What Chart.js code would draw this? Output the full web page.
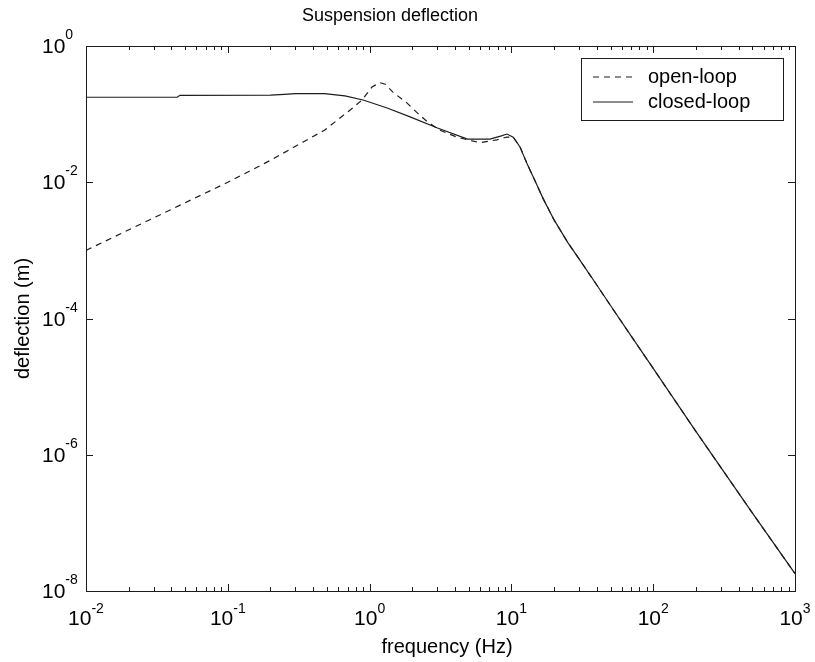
<!DOCTYPE html>
<html>
<head>
<meta charset="utf-8">
<script src="https://cdn.jsdelivr.net/npm/chart.js@4.4.1/dist/chart.umd.min.js"></script>
<style>
  html, body { margin: 0; padding: 0; background: #fff; }
  canvas { display: block; }
</style>
</head>
<body>
<canvas id="bode" width="815" height="662"></canvas>
<script>
// frequency response data (Hz -> m)
const freqOpen = [0.01, 0.1, 0.2, 0.34, 0.48, 0.73, 0.88, 1.04, 1.18, 1.29, 1.46, 1.84, 2.16, 2.58, 3.14, 4.13, 6.0, 7.9, 9.3, 10.3, 11.5, 13, 15, 16.7, 20, 25, 30, 40, 50, 70, 100, 200, 500, 1000];
const openLoop = [0.001, 0.01, 0.021, 0.039, 0.058, 0.115, 0.16, 0.25, 0.29, 0.275, 0.21, 0.145, 0.105, 0.076, 0.058, 0.046, 0.038, 0.042, 0.046, 0.046, 0.033, 0.018, 0.0095, 0.0058, 0.0028, 0.0013, 0.00075, 0.00031, 0.000155, 0.000055, 0.0000185, 0.0000022, 0.00000014, 0.000000018];

const freqClosed = [0.01, 0.044, 0.046, 0.2, 0.25, 0.3, 0.48, 0.67, 0.9, 1.33, 1.93, 2.98, 4.9, 7.06, 8.5, 9.3, 10.3, 11.5, 13, 15, 16.7, 20, 25, 30, 40, 50, 70, 100, 200, 500, 1000];
const closedLoop = [0.177, 0.177, 0.189, 0.19, 0.195, 0.2, 0.2, 0.185, 0.161, 0.123, 0.091, 0.063, 0.043, 0.043, 0.048, 0.051, 0.046, 0.033, 0.018, 0.0095, 0.0058, 0.0028, 0.0013, 0.00075, 0.00031, 0.000155, 0.000055, 0.0000185, 0.0000022, 0.00000014, 0.000000018];

const seriesNames = ['open-loop', 'closed-loop'];
const xDecades = [-2, -1, 0, 1, 2, 3];
const yLabelExps = [0, -2, -4, -6, -8];

const titleText = 'Suspension deflection';
const xTitle = 'frequency (Hz)';
const yTitle = 'deflection (m)';

const FONT = '"Liberation Sans", Arial, Helvetica, sans-serif';
const INK = '#1c1c1c';

function toPoints(xs, ys) {
  return xs.map((x, i) => ({ x: x, y: ys[i] }));
}

// "10" with a raised exponent; left edge of "10" at x
function powerLabel(ctx, exp, x, base, expSize, rise) {
  ctx.textAlign = 'left';
  ctx.textBaseline = 'alphabetic';
  ctx.font = '21px ' + FONT;
  const w10 = ctx.measureText('10').width;
  ctx.fillText('10', x, base);
  ctx.font = expSize + 'px ' + FONT;
  ctx.fillText(String(exp), x + w10, base - rise);
}

function labelWidth(ctx, exp, expSize) {
  ctx.font = '21px ' + FONT;
  const w10 = ctx.measureText('10').width;
  ctx.font = expSize + 'px ' + FONT;
  return w10 + ctx.measureText(String(exp)).width;
}

// MATLAB style box: frame, inward ticks, tick labels, titles, legend
const axesBox = {
  id: 'axesBox',
  afterDatasetsDraw(chart) {
    const ctx = chart.ctx;
    const area = chart.chartArea;
    const xs = chart.scales.x;
    const ys = chart.scales.y;
    ctx.save();
    ctx.strokeStyle = INK;
    ctx.fillStyle = '#000';
    ctx.lineWidth = 1;

    ctx.strokeRect(area.left + 0.5, area.top + 0.5, area.right - area.left, area.bottom - area.top);

    ctx.beginPath();
    xDecades.forEach((d) => {
      for (let m = 1; m <= 9; m++) {
        if (d === 3 && m > 1) break;
        const v = m * Math.pow(10, d);
        const px = Math.round(xs.getPixelForValue(v)) + 0.5;
        const len = m === 1 ? 7 : 4;
        ctx.moveTo(px, area.bottom);
        ctx.lineTo(px, area.bottom - len);
        ctx.moveTo(px, area.top);
        ctx.lineTo(px, area.top + len);
      }
    });
    yLabelExps.forEach((e) => {
      const py = Math.round(ys.getPixelForValue(Math.pow(10, e))) + 0.5;
      ctx.moveTo(area.left, py);
      ctx.lineTo(area.left + 7, py);
      ctx.moveTo(area.right, py);
      ctx.lineTo(area.right - 7, py);
    });
    ctx.stroke();

    xDecades.forEach((d) => {
      const px = xs.getPixelForValue(Math.pow(10, d));
      const w = labelWidth(ctx, d, 14);
      powerLabel(ctx, d, px - w / 2, 625, 14, 12);
    });
    yLabelExps.forEach((e) => {
      const py = ys.getPixelForValue(Math.pow(10, e));
      powerLabel(ctx, e, 42, py + 7, 14, 14);
    });

    ctx.textAlign = 'center';
    ctx.textBaseline = 'alphabetic';
    ctx.font = '18px ' + FONT;
    ctx.fillText(titleText, 390, 21);
    ctx.font = '20px ' + FONT;
    ctx.fillText(xTitle, 447, 653);
    ctx.save();
    ctx.translate(29, (area.top + area.bottom) / 2);
    ctx.rotate(-Math.PI / 2);
    ctx.fillText(yTitle, 0, 0);
    ctx.restore();

    // legend
    const lx = 581, ly = 58, lw = 202, lh = 62;
    ctx.fillStyle = '#fff';
    ctx.fillRect(lx, ly, lw, lh);
    ctx.strokeRect(lx + 0.5, ly + 0.5, lw, lh);
    chart.data.datasets.forEach((ds, i) => {
      const y = ly + 19 + i * 25;
      ctx.beginPath();
      ctx.setLineDash(ds.borderDash || []);
      ctx.lineWidth = ds.borderWidth;
      ctx.strokeStyle = ds.borderColor;
      ctx.moveTo(593, y);
      ctx.lineTo(633, y);
      ctx.stroke();
      ctx.setLineDash([]);
      ctx.fillStyle = '#000';
      ctx.font = '20px ' + FONT;
      ctx.textAlign = 'left';
      ctx.textBaseline = 'middle';
      ctx.fillText(ds.label, 648, y);
    });
    ctx.restore();
  }
};

new Chart(document.getElementById('bode'), {
  type: 'scatter',
  data: {
    datasets: [
      {
        label: seriesNames[0],
        data: toPoints(freqOpen, openLoop),
        showLine: true,
        borderColor: INK,
        borderWidth: 1.2,
        borderDash: [6, 5],
        pointRadius: 0,
        tension: 0
      },
      {
        label: seriesNames[1],
        data: toPoints(freqClosed, closedLoop),
        showLine: true,
        borderColor: INK,
        borderWidth: 1.2,
        pointRadius: 0,
        tension: 0
      }
    ]
  },
  options: {
    responsive: false,
    animation: false,
    layout: { padding: { left: 86, top: 46, right: 20, bottom: 71 } },
    scales: {
      x: { type: 'logarithmic', min: 0.01, max: 1000, display: false },
      y: { type: 'logarithmic', min: 1e-8, max: 1, display: false }
    },
    plugins: {
      legend: { display: false },
      tooltip: { enabled: false }
    }
  },
  plugins: [axesBox]
});
</script>
</body>
</html>
